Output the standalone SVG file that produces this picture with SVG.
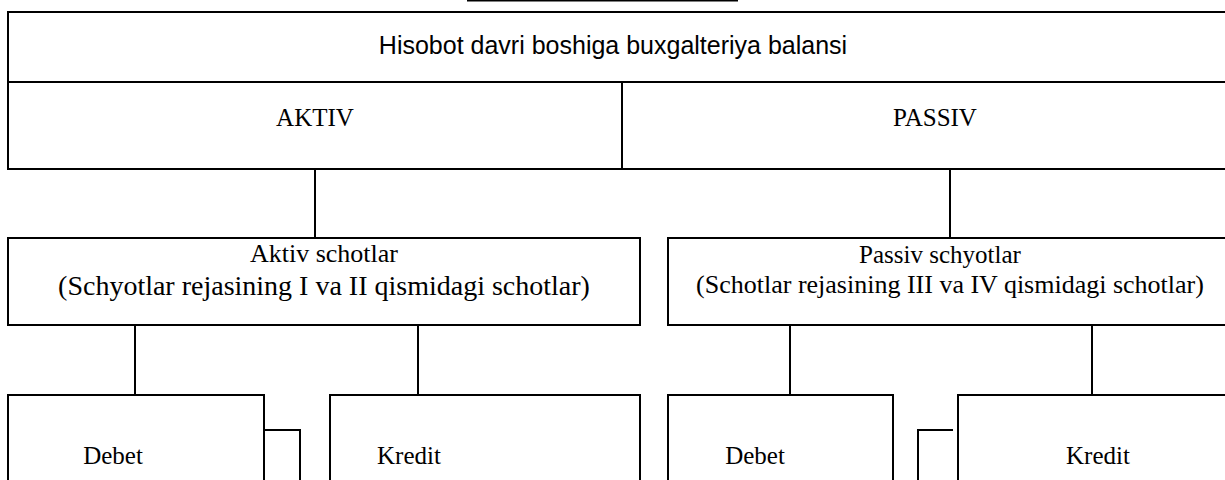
<svg xmlns="http://www.w3.org/2000/svg" width="1225" height="480" viewBox="0 0 1225 480">
  <style>
    .box { fill: #ffffff; stroke: #000000; stroke-width: 2; }
    .line { fill: none; stroke: #000000; stroke-width: 2; }
    .sans { font-family: "Liberation Sans", Arial, sans-serif; font-size: 25px; fill: #000; text-anchor: middle; }
    .serif { font-family: "Liberation Serif", "Times New Roman", serif; font-size: 25px; fill: #000; text-anchor: middle; }
    .serif-lg { font-family: "Liberation Serif", "Times New Roman", serif; font-size: 28px; fill: #000; text-anchor: middle; }
    .serif-md { font-family: "Liberation Serif", "Times New Roman", serif; font-size: 26px; fill: #000; text-anchor: middle; }
  </style>
  <rect width="1225" height="480" fill="#ffffff"/>

  <!-- underline of the heading line above the table -->
  <line class="line" x1="467" y1="0.5" x2="738" y2="0.5"/>

  <!-- balance sheet header -->
  <g id="balance">
    <rect class="box" x="8" y="12" width="1230" height="157"/>
    <line class="line" x1="8" y1="82" x2="1238" y2="82"/>
    <line class="line" x1="622" y1="82" x2="622" y2="169"/>
    <text class="sans" x="613" y="54">Hisobot davri boshiga buxgalteriya balansi</text>
  </g>
  <g id="aktiv">
    <text class="serif" x="315" y="126">AKTIV</text>
  </g>
  <g id="passiv">
    <text class="serif" x="935" y="126">PASSIV</text>
  </g>

  <g id="connectors">
    <line class="line" x1="315" y1="169" x2="315" y2="238"/>
    <line class="line" x1="950" y1="169" x2="950" y2="238"/>
    <line class="line" x1="135" y1="325" x2="135" y2="395"/>
    <line class="line" x1="418" y1="325" x2="418" y2="395"/>
    <line class="line" x1="790" y1="325" x2="790" y2="395"/>
    <line class="line" x1="1092" y1="325" x2="1092" y2="395"/>
    <polyline class="line" points="264,430 300,430 300,482"/>
    <polyline class="line" points="918,482 918,430 953,430"/>
  </g>

  <g id="aktiv-accounts">
    <rect class="box" x="8" y="238" width="632" height="87"/>
    <text class="serif-md" x="324" y="262">Aktiv schotlar</text>
    <text class="serif-lg" x="324" y="295">(Schyotlar rejasining I va II qismidagi schotlar)</text>
  </g>
  <g id="passiv-accounts">
    <rect class="box" x="668" y="238" width="570" height="87"/>
    <text class="serif" x="940" y="263">Passiv schyotlar</text>
    <text class="serif-md" x="950" y="293">(Schotlar rejasining III va IV qismidagi schotlar)</text>
  </g>

  <g id="aktiv-debet">
    <rect class="box" x="8" y="395" width="256" height="100"/>
    <text class="serif" x="113" y="464">Debet</text>
  </g>
  <g id="aktiv-kredit">
    <rect class="box" x="330" y="395" width="310" height="100"/>
    <text class="serif" x="409" y="464">Kredit</text>
  </g>
  <g id="passiv-debet">
    <rect class="box" x="668" y="395" width="225" height="100"/>
    <text class="serif" x="755" y="464">Debet</text>
  </g>
  <g id="passiv-kredit">
    <rect class="box" x="958" y="395" width="280" height="100"/>
    <text class="serif" x="1098" y="464">Kredit</text>
  </g>
</svg>
